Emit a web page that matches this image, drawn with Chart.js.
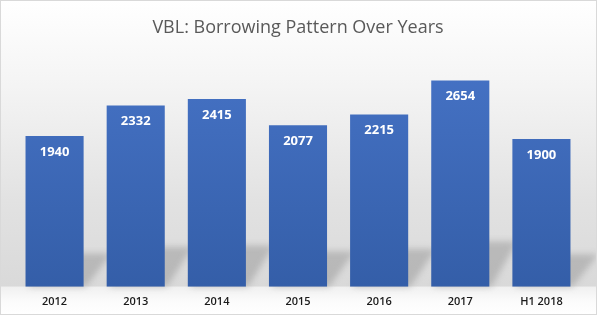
<!DOCTYPE html>
<html><head><meta charset="utf-8">
<script src="https://cdn.jsdelivr.net/npm/chart.js@4.4.1/dist/chart.umd.min.js"></script>
<style>html,body{margin:0;padding:0;background:#fff}canvas{display:block}</style>
</head><body>
<canvas id="c" width="597" height="315"></canvas>
<script>
const categories = ["2012","2013","2014","2015","2016","2017","H1 2018"];
const borrowing = [1940,2332,2415,2077,2215,2654,1900];
const titleText = "VBL: Borrowing Pattern Over Years";

const bgPlugin = {
  id:'bg',
  beforeDraw(chart){
    const {ctx, width, height, chartArea} = chart;
    ctx.save();
    const g = ctx.createLinearGradient(0,0,0,chartArea.bottom);
    g.addColorStop(0,'#ffffff');
    g.addColorStop(0.3,'#f4f4f4');
    g.addColorStop(0.7,'#e2e2e2');
    g.addColorStop(1,'#d9d9d9');
    ctx.fillStyle = g;
    ctx.fillRect(0,0,width,chartArea.bottom);
    const g2 = ctx.createLinearGradient(0,chartArea.bottom,0,height);
    g2.addColorStop(0,'#f0f0f0');
    g2.addColorStop(0.5,'#fbfbfb');
    g2.addColorStop(1,'#ffffff');
    ctx.fillStyle = g2;
    ctx.fillRect(0,chartArea.bottom,width,height-chartArea.bottom);
    ctx.restore();
  },
  beforeDatasetsDraw(chart){
    const {ctx} = chart;
    const meta = chart.getDatasetMeta(0);
    ctx.save();
    ctx.filter = 'blur(3px)';
    ctx.fillStyle = 'rgba(150,150,150,0.5)';
    meta.data.forEach(el=>{
      const left = el.x - el.width/2, right = el.x + el.width/2;
      const h = (el.base - el.y)*0.22;
      ctx.beginPath();
      ctx.moveTo(left+2, el.base);
      ctx.lineTo(right+2, el.base);
      ctx.lineTo(right+28, el.base-h);
      ctx.lineTo(left+28, el.base-h);
      ctx.closePath();
      ctx.fill();
    });
    ctx.restore();
  },
  afterDatasetsDraw(chart){
    const {ctx} = chart;
    const meta = chart.getDatasetMeta(0);
    ctx.save();
    ctx.fillStyle = '#ffffff';
    ctx.font = 'bold 13px "Open Sans", sans-serif';
    ctx.textAlign = 'center';
    ctx.textBaseline = 'middle';
    meta.data.forEach((el,i)=>{
      ctx.fillText(String(borrowing[i]), el.x, el.y + 16);
    });
    ctx.restore();
  },
  afterDraw(chart){
    const {ctx,width,height} = chart;
    ctx.save();
    ctx.strokeStyle = '#d9d9d9';
    ctx.lineWidth = 1;
    ctx.strokeRect(0.5,0.5,width-1,height-1);
    ctx.restore();
  }
};

new Chart(document.getElementById('c'), {
  type:'bar',
  data:{
    labels: categories,
    datasets:[{
      data: borrowing,
      backgroundColor(ctx){
        const ca = ctx.chart.chartArea;
        if(!ca) return '#4472c4';
        const g = ctx.chart.ctx.createLinearGradient(0,ca.top,0,ca.bottom);
        g.addColorStop(0,'#4673c6');
        g.addColorStop(1,'#345ea8');
        return g;
      },
      borderWidth:0,
      categoryPercentage:1,
      barPercentage:0.716
    }]
  },
  options:{
    responsive:false,
    animation:false,
    layout:{padding:{left:14,right:15,top:0,bottom:7}},
    plugins:{
      legend:{display:false},
      tooltip:{enabled:false},
      title:{display:true,text:titleText,color:'#595959',
        font:{family:'"Open Sans", sans-serif',size:18,weight:'normal'},
        padding:{top:17,bottom:15}}
    },
    scales:{
      x:{grid:{display:false},border:{display:false},
        ticks:{color:'#1a1a1a',font:{family:'"Open Sans", sans-serif',size:11,weight:'600'},padding:0,maxRotation:0}},
      y:{display:false,min:0,max:3000}
    }
  },
  plugins:[bgPlugin]
});
</script>
</body></html>
